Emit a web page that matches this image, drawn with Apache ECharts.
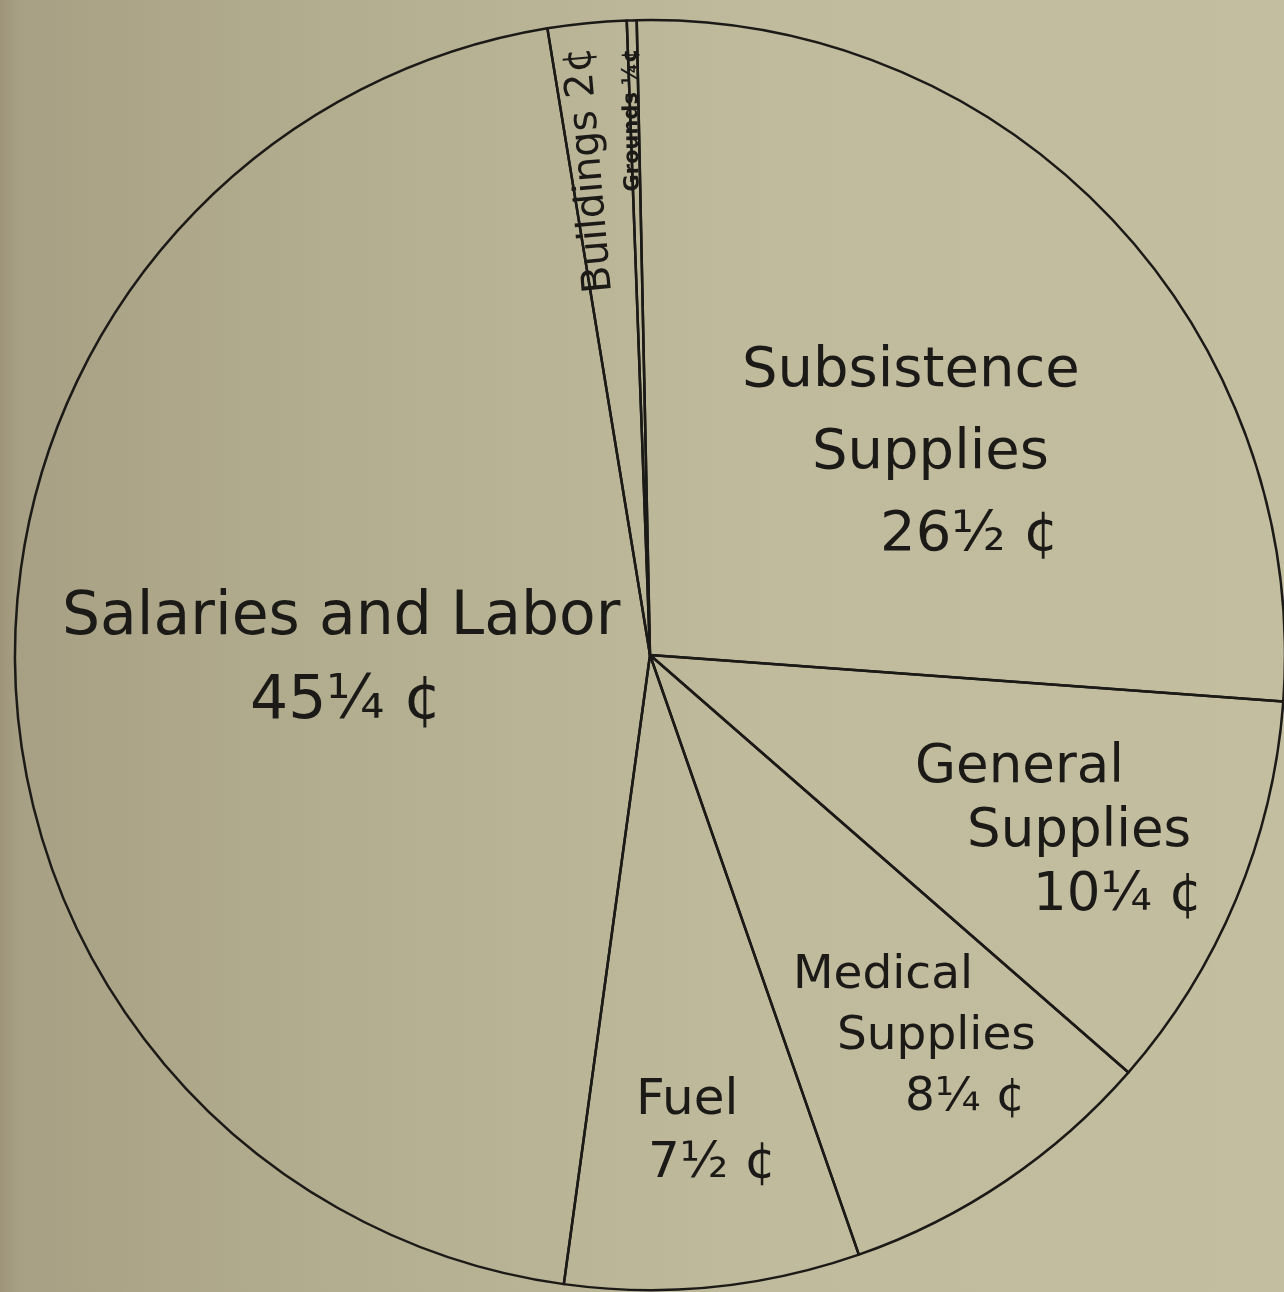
<!DOCTYPE html>
<html>
<head>
<meta charset="utf-8">
<script src="https://cdn.jsdelivr.net/npm/echarts@6/dist/echarts.min.js"></script>
<style>
  html, body { margin: 0; padding: 0; }
  #pie-chart { width: 1284px; height: 1292px; }
</style>
</head>
<body>
<div id="pie-chart"></div>
<script>
// where each dollar went, in cents
const categories = ['Subsistence\nSupplies', 'General\nSupplies', 'Medical\nSupplies', 'Fuel', 'Salaries and Labor', 'Buildings', 'Grounds'];
const cents = [26.5, 10.25, 8.25, 7.5, 45.25, 2, 0.25];
const centLabels = ['26½ ¢', '10¼ ¢', '8¼ ¢', '7½ ¢', '45¼ ¢', '2¢', '¼¢'];

// hand-lettered label placement (block top-left, or centre for the rotated ones)
const labelBox = [
  { x: 742, y: 330, size: 56, lh: 82, indent: [0, 70, 138] },
  { x: 915, y: 736, size: 53, lh: 64, indent: [0, 52, 118] },
  { x: 793, y: 945, size: 47, lh: 61, indent: [0, 44, 112] },
  { x: 636, y: 1070, size: 50, lh: 63, indent: [0, 12] },
  { x: 62, y: 576, size: 60, lh: 84, indent: [0, 188] },
  { x: 590, y: 170, size: 40, rotate: 95, inline: true },
  { x: 632, y: 120, size: 21, rotate: 91, inline: true, bold: true }
];

const ink = '#1b1a17';
const font = 'DejaVu Sans';

let chart = echarts.init(document.getElementById('pie-chart'));

let data = cents.map(function (v, i) {
  let box = labelBox[i];
  let rich = {};
  let text;
  if (box.inline) {
    rich.l0 = { fontSize: box.size, fontFamily: font, color: ink, fontWeight: box.bold ? 'bold' : 'normal' };
    text = '{l0|' + categories[i] + ' ' + centLabels[i] + '}';
  } else {
    let lines = categories[i].split('\n').concat([centLabels[i]]);
    text = lines.map(function (line, j) {
      rich['l' + j] = {
        fontSize: box.size,
        fontFamily: font,
        color: ink,
        lineHeight: box.lh,
        padding: [0, 0, 0, box.indent[j] || 0]
      };
      return '{l' + j + '|' + line + '}';
    }).join('\n');
  }
  return {
    name: categories[i].replace('\n', ' '),
    value: v,
    label: { formatter: text, rich: rich }
  };
});

var option = {
  backgroundColor: {
    type: 'linear', x: 0, y: 0, x2: 1, y2: 0,
    colorStops: [
      { offset: 0, color: '#9d947a' },
      { offset: 0.015, color: '#a8a084' },
      { offset: 0.25, color: '#b3ad8f' },
      { offset: 0.6, color: '#c1bb9e' },
      { offset: 1, color: '#c4bea1' }
    ]
  },
  animation: false,
  series: [{
    type: 'pie',
    center: [650, 655],
    radius: 635,
    startAngle: 91.2,
    clockwise: true,
    silent: true,
    avoidLabelOverlap: false,
    minAngle: 0,
    itemStyle: {
      color: 'rgba(0,0,0,0)',
      borderColor: ink,
      borderWidth: 2.5
    },
    label: {
      show: true,
      position: 'inside'
    },
    labelLine: { show: false },
    labelLayout: function (params) {
      let box = labelBox[params.dataIndex];
      if (box.inline) {
        return { x: box.x, y: box.y, rotate: box.rotate, align: 'center', verticalAlign: 'middle' };
      }
      return { x: box.x, y: box.y, align: 'left', verticalAlign: 'top' };
    },
    data: data
  }]
};

chart.setOption(option);
</script>
</body>
</html>
